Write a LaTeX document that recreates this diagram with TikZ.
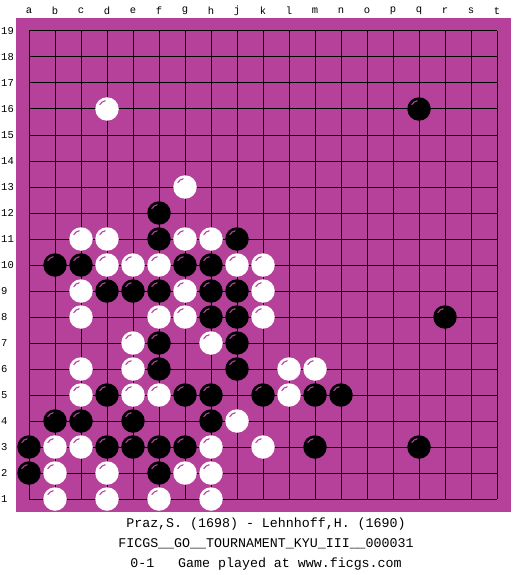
\documentclass[tikz,border=0pt]{standalone}
\usepackage{fontspec}
\setmainfont{Liberation Mono}
\setmonofont{Liberation Mono}
\definecolor{boardc}{RGB}{181,65,155}
\tikzset{
  stone/.style={circle, minimum size=23.5pt, inner sep=0pt, outer sep=0pt},
  hl/.style={path picture={\draw[boardc, line width=1.1pt] ([shift={(100:8.5pt)}]path picture bounding box.center) arc[start angle=100, end angle=150, radius=8.5pt];}},
  wst/.style={stone, fill=white, hl},
  bst/.style={stone, fill=black, hl},
  gridline/.style={black, line width=1pt},
  lab/.style={inner sep=0pt, font=\fontsize{10.5}{12}\selectfont},
  captext/.style={inner sep=0pt, font=\fontsize{13.3}{15}\selectfont}
}
\begin{document}
\begin{tikzpicture}[x=1pt,y=-1pt]
\useasboundingbox (0,0) rectangle (525,575);
\fill[white] (0,0) rectangle (525,575);
\fill[boardc] (16,18) rectangle (511,512);
\foreach \i in {0,...,18}{
  \draw[gridline] (29+26*\i,31) -- (29+26*\i,499);
  \draw[gridline] (29,31+26*\i) -- (497,31+26*\i);
}
\foreach \l [count=\i from 0] in {a,b,c,d,e,f,g,h,j,k,l,m,n,o,p,q,r,s,t}
  \node[lab] (col\l) at (29+26*\i,11) {\l};
\foreach \r in {1,...,19}
  \node[lab, anchor=west] (row\r) at (1,31+26*19-26*\r) {\r};
% white stones
\foreach \c/\r in {4/16,7/13,3/11,4/11,7/11,8/11,4/10,5/10,6/10,9/10,10/10,
  3/9,7/9,10/9,3/8,6/8,7/8,10/8,5/7,8/7,3/6,5/6,11/6,12/6,3/5,5/5,6/5,11/5,
  9/4,2/3,3/3,8/3,10/3,2/2,4/2,7/2,8/2,2/1,4/1,6/1,8/1}
  \node[wst] (w\c-\r) at (3+26*\c,525-26*\r) {};
% black stones
\foreach \c/\r in {16/16,6/12,6/11,9/11,2/10,3/10,7/10,8/10,4/9,5/9,6/9,8/9,9/9,
  8/8,9/8,17/8,6/7,9/7,6/6,9/6,4/5,7/5,8/5,10/5,12/5,13/5,2/4,3/4,5/4,8/4,
  1/3,4/3,5/3,6/3,7/3,12/3,16/3,1/2,6/2}
  \node[bst] (b\c-\r) at (3+26*\c,525-26*\r) {};
\node[captext] (t1) at (266,524) {Praz,S. (1698) - Lehnhoff,H. (1690)};
\node[captext] (t2) at (266,544) {FICGS\_\_GO\_\_TOURNAMENT\_KYU\_III\_\_000031};
\node[captext] (t3) at (266,564) {0-1\ \ \ Game played at www.ficgs.com};
\end{tikzpicture}
\end{document}
